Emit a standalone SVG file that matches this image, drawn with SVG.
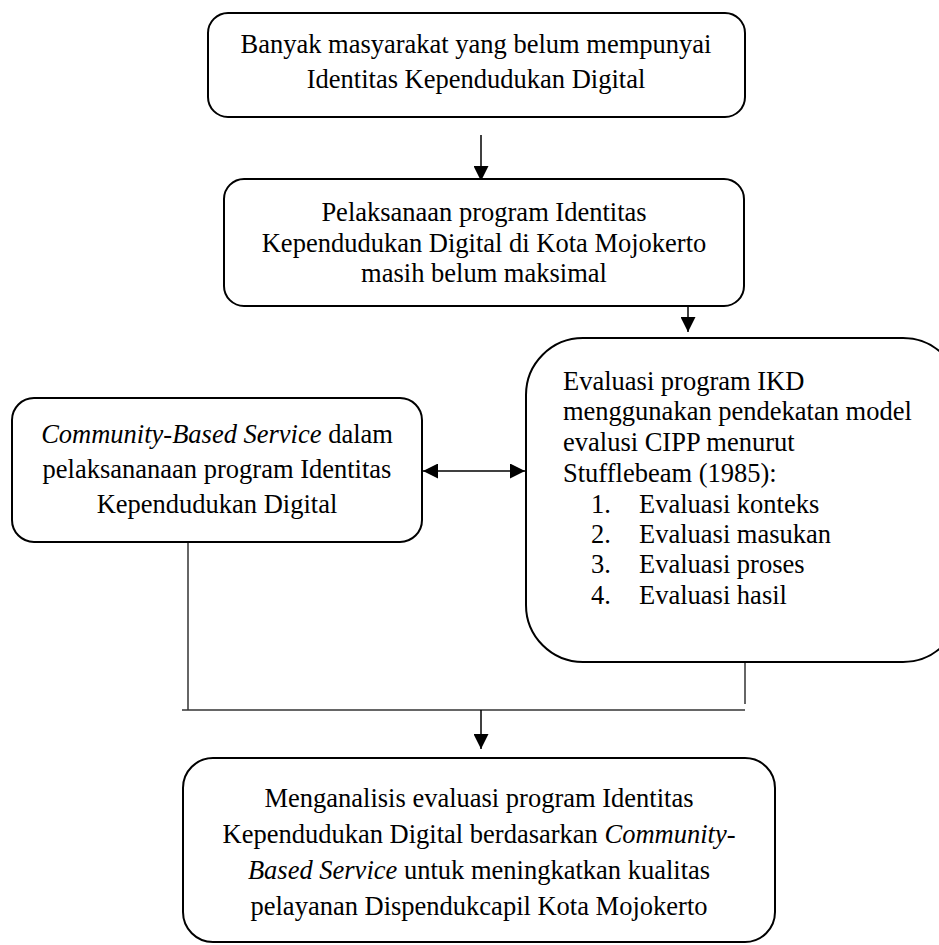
<svg xmlns="http://www.w3.org/2000/svg" width="939" height="945" viewBox="0 0 939 945">
<style>
.box{fill:#fff;stroke:#000;stroke-width:2}
text{font-family:"Liberation Serif","Times New Roman",serif;font-size:26.5px;fill:#000}
.c{text-anchor:middle}
.i{font-style:italic}
.ln{stroke:#333;stroke-width:1.5;fill:none}
.ar{stroke:#000;stroke-width:1.5;fill:none}
</style>
<defs>
<marker id="ah" viewBox="0 0 15 15" refX="15" refY="7.5" markerWidth="15" markerHeight="15" markerUnits="userSpaceOnUse" orient="auto-start-reverse">
<path d="M0,0 L15,7.5 L0,15 Z" fill="#000"/>
</marker>
</defs>
<g id="connectors">
<line class="ar" x1="481" y1="135" x2="481" y2="181" marker-end="url(#ah)"/>
<line class="ar" x1="688" y1="302" x2="688" y2="332" marker-end="url(#ah)"/>
<line class="ar" x1="423" y1="471" x2="525" y2="471" marker-start="url(#ah)" marker-end="url(#ah)"/>
<line class="ln" x1="188" y1="542" x2="188" y2="710"/>
<line class="ln" x1="745" y1="663" x2="745" y2="704"/>
<line class="ln" x1="182" y1="710" x2="745" y2="710"/>
<line class="ar" x1="481" y1="710" x2="481" y2="749" marker-end="url(#ah)"/>
</g>
<g id="node1">
<rect class="box" x="208" y="13" width="537" height="104" rx="20"/>
<text class="c" x="476" y="53">Banyak masyarakat yang belum mempunyai</text>
<text class="c" x="476" y="88">Identitas Kependudukan Digital</text>
</g>
<g id="node2">
<rect class="box" x="224" y="179" width="520" height="127" rx="20"/>
<text class="c" x="484" y="221">Pelaksanaan program Identitas</text>
<text class="c" x="484" y="252">Kependudukan Digital di Kota Mojokerto</text>
<text class="c" x="484" y="282">masih belum maksimal</text>
</g>
<g id="node3">
<rect class="box" x="526" y="338" width="434" height="324" rx="57"/>
<text x="563" y="390">Evaluasi program IKD</text>
<text x="563" y="420">menggunakan pendekatan model</text>
<text x="563" y="451">evalusi CIPP menurut</text>
<text x="563" y="482">Stufflebeam (1985):</text>
<text x="591" y="513">1.</text><text x="639" y="513">Evaluasi konteks</text>
<text x="591" y="543">2.</text><text x="639" y="543">Evaluasi masukan</text>
<text x="591" y="573">3.</text><text x="639" y="573">Evaluasi proses</text>
<text x="591" y="604">4.</text><text x="639" y="604">Evaluasi hasil</text>
</g>
<g id="node4">
<rect class="box" x="12" y="398" width="410" height="144" rx="22"/>
<text class="c" x="217" y="443"><tspan class="i">Community-Based Service</tspan> dalam</text>
<text class="c" x="217" y="478">pelaksananaan program Identitas</text>
<text class="c" x="217" y="513">Kependudukan Digital</text>
</g>
<g id="node5">
<rect class="box" x="183" y="758" width="592" height="184" rx="30"/>
<text class="c" x="479" y="807">Menganalisis evaluasi program Identitas</text>
<text class="c" x="479" y="843">Kependudukan Digital berdasarkan <tspan class="i">Community</tspan>-</text>
<text class="c" x="479" y="879"><tspan class="i">Based Service</tspan> untuk meningkatkan kualitas</text>
<text class="c" x="479" y="915">pelayanan Dispendukcapil Kota Mojokerto</text>
</g>
</svg>
